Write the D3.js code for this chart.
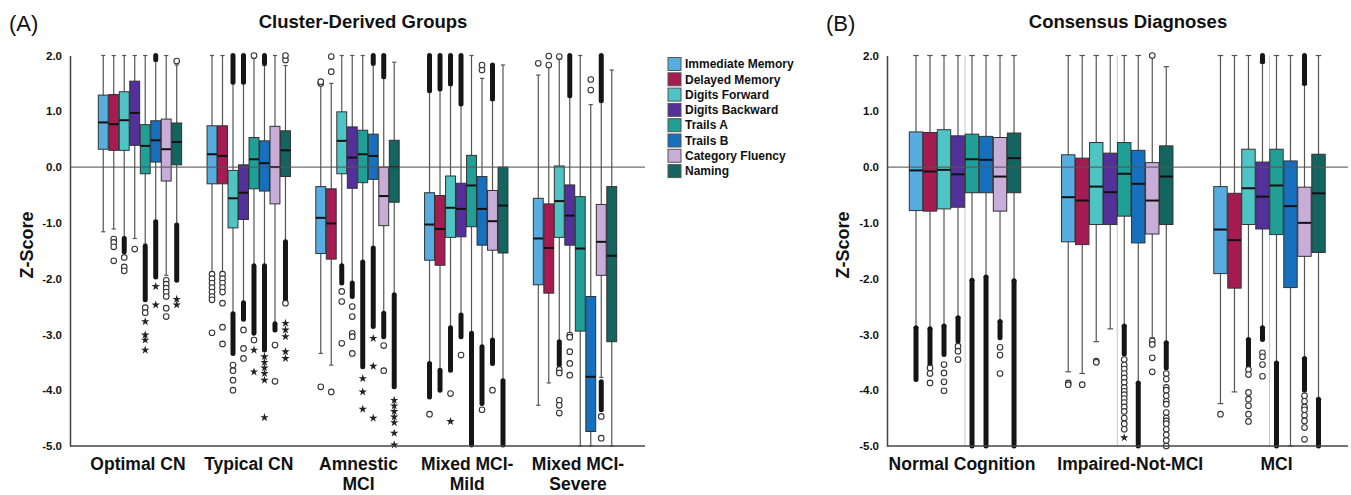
<!DOCTYPE html>
<html>
<head>
<meta charset="utf-8">
<script src="https://cdn.jsdelivr.net/npm/d3@7"></script>
<style>
  body { margin: 0; background: #fff; }
  text { font-family: "Liberation Sans", Arial, Helvetica, sans-serif; fill: #111; }
</style>
</head>
<body>
<svg id="chart" width="1351" height="495"></svg>
<script>
// tests (one box per test in every group)
var tests = ["Immediate Memory", "Delayed Memory", "Digits Forward", "Digits Backward",
             "Trails A", "Trails B", "Category Fluency", "Naming"];
var testColors = ["#58ade0", "#a41c52", "#4ec4c4", "#54319a", "#1f9f96", "#1670be", "#c8add8", "#14645f"];

var clusterGroups = ["Optimal CN", "Typical CN", "Amnestic\nMCI", "Mixed MCI-\nMild", "Mixed MCI-\nSevere"];
var diagnosisGroups = ["Normal Cognition", "Impaired-Not-MCI", "MCI"];
var yTicks = [2, 1, 0, -1, -2, -3, -4, -5];

// box stats per group, per test: [lower whisker, Q1, median, Q3, upper whisker]
var clusterBoxes = [
  [[-1.16, 0.32, 0.80, 1.29, 2.0], [-1.11, 0.30, 0.77, 1.30, 2.0], [-1.26, 0.30, 0.84, 1.35, 2.0], [-1.28, 0.39, 0.97, 1.54, 2.0],
   [-1.38, -0.12, 0.38, 0.76, 2.0], [-0.96, 0.09, 0.48, 0.83, 1.90], [-1.94, -0.25, 0.32, 0.86, 2.0], [-1.02, 0.04, 0.45, 0.79, 1.83]],
  [[-1.88, -0.30, 0.23, 0.74, 2.0], [-1.88, -0.30, 0.20, 0.74, 2.0], [-2.63, -1.09, -0.56, -0.06, 1.50], [-2.43, -0.94, -0.46, 0.04, 1.50],
   [-1.77, -0.39, 0.14, 0.53, 1.95], [-1.77, -0.43, 0.07, 0.47, 1.82], [-2.81, -0.66, 0.0, 0.73, 2.0], [-1.34, -0.17, 0.30, 0.65, 1.82]],
  [[-3.34, -1.55, -0.91, -0.35, 1.50], [-3.55, -1.65, -1.01, -0.39, 1.50], [-1.77, -0.12, 0.47, 0.99, 2.0], [-2.08, -0.38, 0.17, 0.72, 2.0],
   [-1.70, -0.28, 0.23, 0.66, 2.0], [-1.45, -0.22, 0.20, 0.59, 1.83], [-2.62, -1.05, -0.52, 0.0, 1.59], [-2.29, -0.63, 0.0, 0.48, 1.88]],
  [[-3.52, -1.67, -1.03, -0.46, 1.35], [-3.64, -1.76, -1.11, -0.51, 1.38], [-2.88, -1.26, -0.73, -0.16, 1.47], [-2.65, -1.25, -0.75, -0.29, 1.11],
   [-2.98, -1.07, -0.33, 0.21, 2.0], [-3.22, -1.40, -0.75, -0.17, 1.59], [-3.10, -1.49, -0.97, -0.42, 1.20], [-3.83, -1.54, -0.69, 0.0, 1.83]],
  [[-4.27, -2.11, -1.28, -0.56, 1.65], [-3.87, -2.26, -1.45, -0.66, 1.80], [-3.13, -1.26, -0.61, 0.02, 1.93], [-2.97, -1.40, -0.87, -0.32, 1.26],
   [-5.0, -2.94, -1.46, -0.53, 2.0], [-5.0, -4.74, -3.76, -2.32, 1.12], [-3.77, -1.94, -1.34, -0.67, 1.17], [-5.0, -3.13, -1.59, -0.35, 1.74]]
];
// runs of outliers so dense they print as a solid column: [from, to]
var clusterDense = [
  [[], [], [[-1.28, -1.52]], [], [[-1.42, -2.38]], [[1.93, 2.0], [-0.98, -1.97]], [], [[-1.04, -2.03]]],
  [[], [], [[1.52, 2.0], [-2.63, -3.34]], [[1.52, 2.0], [-2.43, -2.73]], [[-1.77, -2.98]], [[1.86, 2.0], [-1.77, -3.28]], [[-2.81, -2.92]], [[-1.34, -2.38]]],
  [[], [], [[-1.77, -2.08]], [[-2.08, -2.32]], [[-1.70, -3.58]], [[1.86, 2.0], [-1.45, -2.86]], [[1.62, 2.0], [-2.62, -3.04]], [[-2.29, -3.94]]],
  [[[1.37, 2.0], [-3.52, -4.12]], [[1.40, 2.0], [-3.64, -4.0]], [[1.49, 2.0], [-2.88, -3.64]], [[1.13, 2.0], [-2.65, -3.04]],
   [[-2.98, -4.98]], [[-3.22, -4.24]], [[1.22, 1.83], [-3.10, -3.52]], [[-3.83, -4.98]]],
  [[], [], [[-3.13, -3.55]], [[1.28, 2.0]], [], [], [[1.19, 2.0], [-3.85, -4.35]], []]
];
var clusterCircles = [
  [[], [-1.29, -1.35, -1.43, -1.68], [-1.62, -1.79, -1.86], [-1.47], [-2.52, -2.61], [], [-2.03, -2.10, -2.17, -2.24, -2.32, -2.53, -2.68], [1.90]],
  [[-1.92, -2.0, -2.08, -2.16, -2.24, -2.32, -2.38, -2.97], [-1.92, -2.0, -2.08, -2.16, -2.24, -2.44, -2.87, -3.17],
   [-3.55, -3.65, -3.82, -4.0], [-2.92, -3.25, -3.43], [2.0, -3.10], [], [-3.19, -3.84], [1.92, 2.0, -2.44]],
  [[1.50, 1.53, -3.94], [1.71, 1.98, -4.03], [-2.23, -2.41, -3.16], [-2.50, -2.68, -2.98, -3.04, -3.34], [], [], [-3.20, -3.65], []],
  [[-4.43], [], [-4.06], [-3.37], [], [1.74, 1.83, -4.35], [-4.0], []],
  [[1.86], [1.83, 1.99], [1.98, -3.63, -3.69, -4.18, -4.27, -4.41], [-3.01, -3.05, -3.31, -3.52, -3.73], [], [1.38, 1.57], [-4.47, -4.86], []]
];
var clusterStars = [
  [[], [], [], [], [-2.77, -3.01, -3.10, -3.28], [-2.14, -2.47], [], [-2.37, -2.47]],
  [[], [], [], [], [-3.28, -3.67], [-3.40, -3.50, -3.60, -3.70, -3.82, -4.49], [], [-2.80, -2.92, -3.04, -3.31, -3.43]],
  [[], [], [], [], [-3.79, -4.03, -4.34], [-3.07, -3.57, -4.50], [], [-4.18, -4.28, -4.38, -4.48, -4.58, -4.77, -4.98]],
  [[], [], [-4.56], [], [], [], [], []],
  [[], [], [], [], [], [], [], []]
];

var diagnosisBoxes = [
  [[-2.88, -0.78, -0.06, 0.63, 2.0], [-2.90, -0.79, -0.08, 0.62, 2.0], [-2.85, -0.75, -0.05, 0.67, 2.0], [-2.70, -0.72, -0.13, 0.56, 2.0],
   [-2.03, -0.46, 0.14, 0.59, 2.0], [-1.97, -0.46, 0.13, 0.55, 2.0], [-2.77, -0.79, -0.17, 0.53, 2.0], [-2.04, -0.46, 0.16, 0.61, 2.0]],
  [[-3.67, -1.34, -0.54, 0.22, 2.0], [-3.70, -1.39, -0.60, 0.16, 2.0], [-3.13, -1.03, -0.35, 0.44, 2.0], [-2.90, -1.03, -0.45, 0.25, 2.0],
   [-2.85, -0.88, -0.12, 0.44, 2.0], [-3.87, -1.36, -0.30, 0.30, 2.0], [-3.06, -1.20, -0.60, 0.08, 1.97], [-3.15, -1.03, -0.17, 0.38, 1.80]],
  [[-4.24, -1.91, -1.12, -0.35, 2.0], [-4.03, -2.17, -1.31, -0.47, 2.0], [-3.09, -1.03, -0.38, 0.32, 2.0], [-2.88, -1.11, -0.53, 0.09, 1.87],
   [-3.51, -1.21, -0.33, 0.32, 2.0], [-5.0, -2.16, -0.70, 0.11, 2.0], [-3.43, -1.60, -1.0, -0.36, 1.48], [-4.16, -1.53, -0.47, 0.23, 2.0]]
];
var diagnosisDense = [
  [[[-2.88, -3.81]], [[-2.90, -3.54]], [[-2.85, -3.36]], [[-2.70, -3.12]], [[-2.03, -5.0]], [[-1.97, -5.0]], [[-2.77, -3.06]], [[-2.04, -5.0]]],
  [[], [], [], [], [[-2.85, -3.35]], [[-3.87, -5.0]], [], [[-3.15, -3.60]]],
  [[], [], [[-3.09, -3.57]], [[1.89, 2.0], [-2.88, -3.09]], [[-3.51, -5.0]], [], [[1.50, 2.0], [-3.43, -4.0]], [[-4.16, -5.0]]]
];
var diagnosisCircles = [
  [[], [-3.60, -3.70, -3.87], [-3.54, -3.69, -3.85, -4.01], [-3.21, -3.30, -3.45], [], [], [-3.23, -3.37, -3.70], []],
  [[-3.87, -3.90], [-3.90], [-3.48, -3.50], [],
   [-3.45, -3.55, -3.62, -3.70, -3.78, -3.86, -3.95, -4.02, -4.08, -4.15, -4.22, -4.30, -4.38, -4.50, -4.60, -4.70],
   [], [2.0, -3.12, -3.18, -3.42, -3.67],
   [-3.70, -3.80, -3.95, -4.00, -4.10, -4.20, -4.25, -4.40, -4.50, -4.55, -4.60, -4.70, -4.80, -4.90, -5.0]],
  [[-4.43], [], [-3.63, -3.72, -4.04, -4.16, -4.28, -4.43, -4.56], [-3.33, -3.40, -3.54, -3.75], [], [],
   [-4.10, -4.20, -4.30, -4.35, -4.45, -4.55, -4.67, -4.88], []]
];
var diagnosisStars = [
  [[], [], [], [], [], [], [], []],
  [[], [], [], [], [-4.85], [], [], []],
  [[], [], [], [], [], [], [], []]
];

var svg = d3.select("#chart");
var y = d3.scaleLinear().domain([-5, 2]).range([446, 55.5]);
var star = d3.symbol().type(d3.symbolStar).size(22);

function drawPanel(p)
{
    var g = svg.append("g");

    var x = d3.scaleBand()
        .domain(d3.range(p.groups.length))
        .range(p.range)
        .paddingInner(p.pad)
        .paddingOuter(p.pad / 2);
    var xi = d3.scaleBand()
        .domain(d3.range(tests.length))
        .range([0, x.bandwidth()]);
    var bw = xi.bandwidth();

    // faint guide lines at group centres (panel B only)
    if(p.guides)
    {
        g.selectAll(".guide")
            .data(p.groups)
            .enter().append("line")
            .attr("x1", function(d, i) { return x(i) + x.bandwidth() / 2; })
            .attr("x2", function(d, i) { return x(i) + x.bandwidth() / 2; })
            .attr("y1", y(2)).attr("y2", y(-5))
            .attr("stroke", "#c8c8c8").attr("stroke-width", 1);
    }

    p.boxes.forEach(function(groupBoxes, gi)
    {
        groupBoxes.forEach(function(b, ti)
        {
            var cx = x(gi) + xi(ti) + bw / 2;
            var cap = bw * 0.2;

            g.append("line")
                .attr("x1", cx).attr("x2", cx)
                .attr("y1", y(b[0])).attr("y2", y(b[4]))
                .attr("stroke", "#555").attr("stroke-width", 1.2);
            [b[0], b[4]].forEach(function(v)
            {
                g.append("line")
                    .attr("x1", cx - cap).attr("x2", cx + cap)
                    .attr("y1", y(v)).attr("y2", y(v))
                    .attr("stroke", "#555").attr("stroke-width", 1.2);
            });

            p.dense[gi][ti].forEach(function(r)
            {
                g.append("line")
                    .attr("x1", cx).attr("x2", cx)
                    .attr("y1", y(r[0])).attr("y2", y(r[1]))
                    .attr("stroke", "#151515").attr("stroke-width", 5)
                    .attr("stroke-linecap", "round");
            });

            g.selectAll(null)
                .data(p.circles[gi][ti])
                .enter().append("circle")
                .attr("cx", cx).attr("cy", function(d) { return y(d); })
                .attr("r", 2.8)
                .attr("fill", "#fff").attr("stroke", "#333").attr("stroke-width", 1.1);

            g.selectAll(null)
                .data(p.stars[gi][ti])
                .enter().append("path")
                .attr("d", star)
                .attr("transform", function(d) { return "translate(" + cx + "," + y(d) + ")"; })
                .attr("fill", "#222");

            g.append("rect")
                .attr("x", cx - bw / 2 + 0.3)
                .attr("width", bw - 0.6)
                .attr("y", y(b[3]))
                .attr("height", y(b[1]) - y(b[3]))
                .attr("fill", testColors[ti])
                .attr("stroke", "#333").attr("stroke-width", 1);

            g.append("line")
                .attr("x1", cx - bw / 2 + 0.3).attr("x2", cx + bw / 2 - 0.3)
                .attr("y1", y(b[2])).attr("y2", y(b[2]))
                .attr("stroke", "#111").attr("stroke-width", 2);
        });
    });

    // reference line at zero
    g.append("line")
        .attr("x1", p.axisX).attr("x2", p.rightX)
        .attr("y1", y(0)).attr("y2", y(0))
        .attr("stroke", "#555").attr("stroke-opacity", 0.85).attr("stroke-width", 1.3);

    // bottom line
    g.append("line")
        .attr("x1", p.axisX).attr("x2", p.rightX)
        .attr("y1", y(-5)).attr("y2", y(-5))
        .attr("stroke", "#444").attr("stroke-width", 1.5);

    var yAxis = g.append("g")
        .attr("transform", "translate(" + p.axisX + ",0)")
        .call(d3.axisLeft(y)
            .tickValues(yTicks)
            .tickFormat(function(d) { return d.toFixed(1); })
            .tickSize(0).tickSizeOuter(0).tickPadding(8));
    yAxis.select(".domain").attr("stroke", "#444").attr("stroke-width", 1.5);
    yAxis.selectAll("text")
        .style("font-size", "11.5px").style("font-weight", "bold")
        .style("font-family", "'Liberation Sans', Arial, sans-serif").attr("fill", "#111");

    g.append("text")
        .attr("transform", "translate(" + p.yLabelX + ",245) rotate(-90)")
        .attr("text-anchor", "middle")
        .style("font-size", "18px").style("font-weight", "bold")
        .text("Z-Score");

    // group labels
    p.groups.forEach(function(name, gi)
    {
        var t = g.append("text")
            .attr("text-anchor", "middle")
            .style("font-size", "17.5px").style("font-weight", "bold");
        name.split("\n").forEach(function(line, li)
        {
            t.append("tspan")
                .attr("x", x(gi) + x.bandwidth() / 2 + p.labelDx[gi])
                .attr("y", 470 + li * 20)
                .text(line);
        });
    });

    g.append("text")
        .attr("x", p.titleX).attr("y", 28)
        .attr("text-anchor", "middle")
        .style("font-size", "18.5px").style("font-weight", "bold")
        .text(p.title);

    g.append("text")
        .attr("x", p.tagX).attr("y", 31)
        .style("font-size", "22px")
        .text(p.tag);
}

drawPanel({
    groups: clusterGroups, boxes: clusterBoxes, dense: clusterDense,
    circles: clusterCircles, stars: clusterStars,
    range: [85.6, 629.4], pad: 0.228, axisX: 70, rightX: 645,
    yLabelX: 33, titleX: 363, title: "Cluster-Derived Groups", tag: "(A)", tagX: 9,
    labelDx: [-2, 0, 1, 1, 3], guides: false
});

drawPanel({
    groups: diagnosisGroups, boxes: diagnosisBoxes, dense: diagnosisDense,
    circles: diagnosisCircles, stars: diagnosisStars,
    range: [888.9, 1345.6], pad: 0.264, axisX: 887, rightX: 1348,
    yLabelX: 849, titleX: 1128, title: "Consensus Diagnoses", tag: "(B)", tagX: 826,
    labelDx: [-3, 13, 7], guides: true
});

// legend
var legend = svg.append("g").attr("transform", "translate(668,57.5)");
var item = legend.selectAll(".item")
    .data(tests)
    .enter().append("g")
    .attr("transform", function(d, i) { return "translate(0," + i * 15.3 + ")"; });
item.append("rect")
    .attr("width", 13).attr("height", 13)
    .attr("fill", function(d, i) { return testColors[i]; })
    .attr("stroke", "#555").attr("stroke-width", 1);
item.append("text")
    .attr("x", 17).attr("y", 6.5).attr("dy", "0.35em")
    .style("font-size", "12px").style("font-weight", "bold")
    .text(function(d) { return d; });
</script>
</body>
</html>
